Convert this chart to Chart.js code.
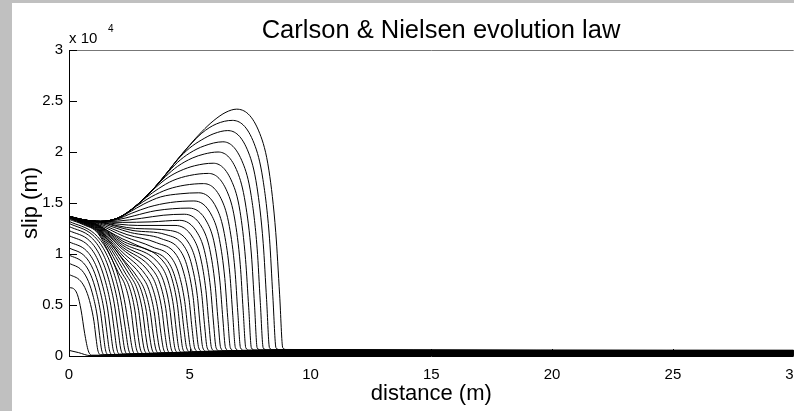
<!DOCTYPE html>
<html>
<head>
<meta charset="utf-8">
<script src="https://cdn.jsdelivr.net/npm/chart.js@4/dist/chart.umd.min.js"></script>
<style>
  html, body { margin: 0; padding: 0; background: #c0c0c0; overflow: hidden; width: 794px; height: 411px; }
  #panel { position: absolute; left: 12px; top: 3px; width: 800px; height: 408px; background: #fff; }
  canvas { display: block; }
</style>
</head>
<body>
<div id="panel"><canvas id="slipChart" width="800" height="408"></canvas></div>
<script>
const chartTitle = 'Carlson & Nielsen evolution law'
const xTitle = 'distance (m)'
const yTitle = 'slip (m)'
const yExponent = '4'

const xTicks = [0, 5, 10, 15, 20, 25, 30]
const yTicks = [0, 0.5, 1, 1.5, 2, 2.5, 3]

// slip profiles, [distance (m), slip (x 10^4 m)], latest first
const outerProfiles = [
    [[0,1.37],[0.6,1.335],[1.3,1.32],[2,1.35],[2.5,1.42],[3,1.52],[3.5,1.64],[4,1.78],[4.5,1.93],[5,2.07],[5.5,2.2],[6,2.31],[6.5,2.39],[6.94,2.42],[7.9,2.18],[8.28,1.815],[8.56,1.21],[8.72,0.6],[8.85,0.08],[9.0,0.064],[30,0.056]],
    [[0,1.37],[0.6,1.335],[1.3,1.32],[2,1.35],[2.5,1.42],[3,1.52],[3.5,1.64],[4,1.78],[4.5,1.93],[5,2.065],[5.5,2.185],[6.1,2.275],[6.76,2.31],[7.67,2.08],[8.03,1.73],[8.3,1.155],[8.44,0.58],[8.57,0.08],[8.72,0.063],[30,0.055]],
    [[0,1.37],[0.6,1.335],[1.3,1.32],[2,1.35],[2.5,1.42],[3,1.52],[3.5,1.64],[4,1.78],[4.5,1.925],[5,2.04],[5.5,2.12],[6,2.18],[6.57,2.21],[7.44,1.99],[7.78,1.66],[8.04,1.105],[8.18,0.553],[8.3,0.08],[8.45,0.062],[30,0.054]],
    [[0,1.37],[0.6,1.335],[1.3,1.32],[2,1.35],[2.5,1.42],[3,1.52],[3.5,1.64],[4,1.775],[4.5,1.9],[5,1.99],[5.6,2.06],[6.37,2.1],[7.2,1.89],[7.54,1.575],[7.79,1.05],[7.92,0.525],[8.04,0.08],[8.19,0.06],[30,0.052]],
    [[0,1.37],[0.6,1.335],[1.3,1.32],[2,1.35],[2.5,1.42],[3,1.52],[3.6,1.665],[4,1.76],[4.5,1.86],[5.1,1.94],[5.6,1.98],[6.17,2],[6.98,1.8],[7.3,1.5],[7.55,1],[7.68,0.5],[7.79,0.08],[7.94,0.059],[30,0.051]],
    [[0,1.37],[0.6,1.335],[1.3,1.32],[2,1.35],[2.5,1.42],[3.2,1.565],[3.6,1.655],[4.1,1.75],[4.6,1.815],[5.2,1.865],[5.97,1.89],[6.76,1.7],[7.08,1.418],[7.31,0.945],[7.44,0.473],[7.55,0.08],[7.7,0.058],[30,0.05]],
    [[0,1.37],[0.6,1.335],[1.3,1.32],[2,1.35],[2.4,1.405],[2.8,1.48],[3.2,1.555],[3.7,1.64],[4.3,1.72],[5,1.77],[5.77,1.79],[6.55,1.61],[6.86,1.343],[7.09,0.895],[7.21,0.448],[7.32,0.08],[7.47,0.057],[30,0.049]],
    [[0,1.37],[0.6,1.335],[1.3,1.32],[2,1.35],[2.4,1.405],[2.8,1.47],[3.4,1.56],[4.1,1.635],[4.8,1.675],[5.57,1.69],[6.34,1.52],[6.64,1.268],[6.87,0.845],[6.99,0.423],[7.1,0.08],[7.25,0.056],[30,0.048]],
    [[0,1.37],[0.6,1.335],[1.3,1.32],[2,1.348],[2.5,1.41],[3.1,1.49],[3.8,1.56],[4.6,1.59],[5.37,1.6],[6.13,1.44],[6.43,1.2],[6.66,0.8],[6.78,0.4],[6.89,0.08],[7.04,0.054],[30,0.046]],
    [[0,1.37],[0.6,1.335],[1.3,1.32],[2,1.343],[2.6,1.4],[3.3,1.46],[4.2,1.505],[5.17,1.52],[5.93,1.368],[6.23,1.14],[6.45,0.76],[6.57,0.38],[6.68,0.08],[6.83,0.053],[30,0.045]]
]

const middleProfiles = [
    [[0,1.37],[0.6,1.335],[1.3,1.318],[2,1.335],[2.7,1.375],[3.6,1.425],[4.97,1.45],[5.73,1.305],[6.03,1.088],[6.25,0.725],[6.37,0.363],[6.48,0.08],[6.63,0.052],[30,0.044]],
    [[0,1.37],[0.6,1.335],[1.3,1.317],[2,1.322],[3,1.35],[3.9,1.38],[4.77,1.39],[5.53,1.251],[5.83,1.043],[6.05,0.695],[6.17,0.348],[6.28,0.08],[6.43,0.051],[30,0.043]],
    [[0,1.37],[0.6,1.335],[1.3,1.316],[2.2,1.31],[3.4,1.315],[4.58,1.33],[5.34,1.197],[5.64,0.998],[5.86,0.665],[5.98,0.333],[6.09,0.08],[6.24,0.05],[30,0.042]],
    [[0,1.37],[0.6,1.333],[1.3,1.314],[2.85,1.28],[4.39,1.28],[5.15,1.152],[5.45,0.96],[5.67,0.64],[5.79,0.32],[5.9,0.08],[6.05,0.048],[30,0.04]],
    [[0,1.37],[0.6,1.332],[1.3,1.312],[2.75,1.25],[4.2,1.23],[4.96,1.107],[5.26,0.923],[5.49,0.615],[5.61,0.308],[5.72,0.08],[5.87,0.047],[30,0.039]],
    [[0,1.37],[0.6,1.331],[1.3,1.31],[2.65,1.23],[4.01,1.19],[4.78,1.071],[5.08,0.893],[5.31,0.595],[5.43,0.298],[5.54,0.08],[5.69,0.046],[30,0.038]],
    [[0,1.37],[0.6,1.33],[1.25,1.305],[2.55,1.21],[3.82,1.15],[4.6,1.035],[4.91,0.863],[5.14,0.575],[5.26,0.288],[5.37,0.08],[5.52,0.045],[30,0.037]],
    [[0,1.37],[0.6,1.329],[1.2,1.3],[2.4,1.19],[3.63,1.11],[4.42,0.999],[4.73,0.833],[4.97,0.555],[5.09,0.278],[5.2,0.08],[5.35,0.044],[30,0.036]],
    [[0,1.37],[0.6,1.328],[1.15,1.295],[2.3,1.17],[3.44,1.07],[4.24,0.963],[4.55,0.803],[4.79,0.535],[4.92,0.268],[5.03,0.08],[5.18,0.042],[30,0.034]],
    [[0,1.37],[0.6,1.327],[1.1,1.29],[2.2,1.15],[3.25,1.04],[4.06,0.936],[4.38,0.78],[4.63,0.52],[4.76,0.26],[4.87,0.08],[5.02,0.041],[30,0.033]]
]

const innerProfiles = [
    [[0,1.37],[0.6,1.325],[1.2,1.285],[2.2,1.13],[3.96,0.91],[4.26,0.758],[4.485,0.506],[4.605,0.253],[4.71,0.07],[4.83,0.038],[30,0.032]],
    [[0,1.37],[0.6,1.323],[1.2,1.28],[2.2,1.11],[3.8,0.885],[4.1,0.737],[4.325,0.492],[4.445,0.246],[4.55,0.07],[4.67,0.037],[30,0.031]],
    [[0,1.37],[0.6,1.321],[1.2,1.275],[2.2,1.09],[3.64,0.86],[3.94,0.716],[4.165,0.478],[4.285,0.239],[4.39,0.07],[4.51,0.036],[30,0.03]],
    [[0,1.37],[0.6,1.319],[1.2,1.27],[2.2,1.07],[3.48,0.84],[3.78,0.7],[4.005,0.467],[4.125,0.234],[4.23,0.07],[4.35,0.034],[30,0.028]],
    [[0,1.37],[0.6,1.317],[1.2,1.264],[2.2,1.05],[3.32,0.82],[3.62,0.683],[3.845,0.456],[3.965,0.228],[4.07,0.07],[4.19,0.033],[30,0.027]],
    [[0,1.37],[0.6,1.315],[1.2,1.258],[2.2,1.02],[3.16,0.8],[3.46,0.666],[3.685,0.445],[3.805,0.222],[3.91,0.07],[4.03,0.032],[30,0.026]],
    [[0,1.37],[0.6,1.312],[1.2,1.251],[2.2,0.99],[3,0.785],[3.3,0.654],[3.525,0.436],[3.645,0.218],[3.75,0.07],[3.87,0.031],[30,0.025]],
    [[0,1.37],[0.6,1.309],[1.2,1.244],[2.2,0.96],[2.84,0.77],[3.14,0.641],[3.365,0.428],[3.485,0.214],[3.59,0.07],[3.71,0.03],[30,0.024]],
    [[0,1.37],[0.6,1.306],[1.2,1.236],[2.68,0.78],[2.98,0.65],[3.205,0.434],[3.325,0.217],[3.43,0.07],[3.55,0.028],[30,0.022]],
    [[0,1.36],[0.6,1.302],[1.2,1.228],[2.52,0.79],[2.82,0.658],[3.045,0.439],[3.165,0.22],[3.27,0.07],[3.39,0.027],[30,0.021]],
    [[0,1.355],[0.6,1.298],[1.2,1.22],[2.36,0.8],[2.66,0.666],[2.885,0.445],[3.005,0.222],[3.11,0.07],[3.23,0.026],[30,0.02]],
    [[0,1.35],[0.6,1.293],[1.2,1.211],[2.2,0.81],[2.5,0.675],[2.725,0.45],[2.845,0.225],[2.95,0.07],[3.07,0.025],[30,0.019]],
    [[0,1.34],[0.6,1.287],[1.2,1.202],[2.04,0.82],[2.34,0.683],[2.565,0.456],[2.685,0.228],[2.79,0.07],[2.91,0.024],[30,0.018]]
]

const earlyProfiles = [
    [[0,1.32],[1.052,1.2],[1.578,1.04],[1.973,0.832],[2.288,0.554],[2.472,0.29],[2.63,0.06],[2.75,0.022],[30,0.016]],
    [[0,1.3],[0.988,1.185],[1.482,1.03],[1.853,0.819],[2.149,0.546],[2.322,0.286],[2.47,0.06],[2.59,0.021],[30,0.015]],
    [[0,1.27],[0.924,1.162],[1.386,1.01],[1.733,0.8],[2.01,0.533],[2.171,0.279],[2.31,0.06],[2.43,0.02],[30,0.014]],
    [[0,1.23],[0.86,1.128],[1.29,0.98],[1.613,0.775],[1.871,0.517],[2.021,0.271],[2.15,0.06],[2.27,0.019],[30,0.013]],
    [[0,1.18],[0.796,1.084],[1.194,0.942],[1.493,0.743],[1.731,0.496],[1.871,0.26],[1.99,0.06],[2.11,0.018],[30,0.012]],
    [[0,1.12],[0.732,1.03],[1.098,0.896],[1.373,0.706],[1.592,0.47],[1.72,0.246],[1.83,0.06],[1.95,0.016],[30,0.01]],
    [[0,1.06],[0.668,0.975],[1.002,0.848],[1.253,0.668],[1.453,0.445],[1.57,0.233],[1.67,0.06],[1.79,0.015],[30,0.009]],
    [[0,0.99],[0.604,0.911],[0.906,0.792],[1.133,0.624],[1.314,0.416],[1.419,0.218],[1.51,0.06],[1.63,0.014],[30,0.008]],
    [[0,0.91],[0.54,0.837],[0.81,0.728],[1.013,0.573],[1.175,0.382],[1.269,0.2],[1.35,0.06],[1.47,0.013],[30,0.007]],
    [[0,0.8],[0.476,0.736],[0.714,0.64],[0.893,0.504],[1.035,0.336],[1.119,0.176],[1.19,0.06],[1.31,0.012],[30,0.006]],
    [[0,0.67],[0.15,0.665],[0.35,0.6],[0.5,0.45],[0.65,0.22],[0.8,0.05],[0.95,0.008],[30,0.004]],
    [[0,0.055],[0.4,0.033],[0.87,0.004],[30,0.002]]
]

const fontFamily = '"Liberation Sans", Arial, sans-serif'

const profiles = [...outerProfiles, ...middleProfiles, ...innerProfiles, ...earlyProfiles]
const datasets = profiles.map(p => ({
    data: p.map(([x, y]) => ({ x: x, y: y })),
    borderColor: '#000',
    borderWidth: 1,
    pointRadius: 0,
    fill: false,
    cubicInterpolationMode: 'monotone'
}))

// box, inward ticks and the text around the axes
const axesDecor = {
    id: 'axesDecor',
    afterDraw(chart) {
        const { ctx, chartArea: a, scales: { x, y } } = chart
        ctx.save()
        ctx.lineWidth = 1
        ctx.strokeStyle = '#777'
        ctx.beginPath()
        ctx.moveTo(a.left, a.top + 0.5)
        ctx.lineTo(a.right, a.top + 0.5)
        ctx.stroke()

        ctx.strokeStyle = '#000'
        ctx.beginPath()
        ctx.moveTo(a.left + 0.5, a.top)
        ctx.lineTo(a.left + 0.5, a.bottom + 0.5)
        ctx.lineTo(a.right, a.bottom + 0.5)
        xTicks.forEach(v => {
            const px = Math.round(x.getPixelForValue(v)) + 0.5
            ctx.moveTo(px, a.bottom)
            ctx.lineTo(px, a.bottom - 7)
        })
        yTicks.forEach(v => {
            const py = Math.round(y.getPixelForValue(v)) + 0.5
            ctx.moveTo(a.left, py)
            ctx.lineTo(a.left + 8, py)
        })
        ctx.stroke()

        ctx.fillStyle = '#000'
        ctx.textAlign = 'center'
        ctx.textBaseline = 'middle'
        ctx.font = '25.5px ' + fontFamily
        ctx.fillText(chartTitle, 429, 28)
        ctx.font = '22px ' + fontFamily
        ctx.fillText(xTitle, (a.left + a.right) / 2, 391)

        ctx.save()
        ctx.translate(19, 200)
        ctx.rotate(-Math.PI / 2)
        ctx.fillText(yTitle, 0, 0)
        ctx.restore()

        ctx.textAlign = 'left'
        ctx.textBaseline = 'alphabetic'
        ctx.font = '15px ' + fontFamily
        ctx.fillText('x 10', a.left, 40)
        ctx.font = '10px ' + fontFamily
        ctx.fillText(yExponent, a.left + 39, 29)
        ctx.restore()
    }
}

const tickFont = { family: fontFamily, size: 15 }

new Chart(document.getElementById('slipChart'), {
    type: 'line',
    data: { datasets: datasets },
    options: {
        responsive: false,
        animation: false,
        events: [],
        layout: { padding: { top: 47, right: 17, left: 0, bottom: 0 } },
        plugins: {
            legend: { display: false },
            tooltip: { enabled: false },
            title: { display: false }
        },
        scales: {
            x: {
                type: 'linear',
                min: 0,
                max: 30,
                afterBuildTicks: s => { s.ticks = xTicks.map(v => ({ value: v })) },
                afterFit: s => { s.height = 55 },
                grid: { display: false, drawTicks: false },
                border: { display: false },
                ticks: { font: tickFont, color: '#000', padding: 10, maxRotation: 0, autoSkip: false, callback: v => String(v) }
            },
            y: {
                type: 'linear',
                min: 0,
                max: 3,
                afterBuildTicks: s => { s.ticks = yTicks.map(v => ({ value: v })) },
                afterFit: s => { s.width = 57 },
                grid: { display: false, drawTicks: false },
                border: { display: false },
                ticks: { font: tickFont, color: '#000', padding: 6, autoSkip: false, callback: v => String(v) }
            }
        }
    },
    plugins: [axesDecor]
})
</script>
</body>
</html>
